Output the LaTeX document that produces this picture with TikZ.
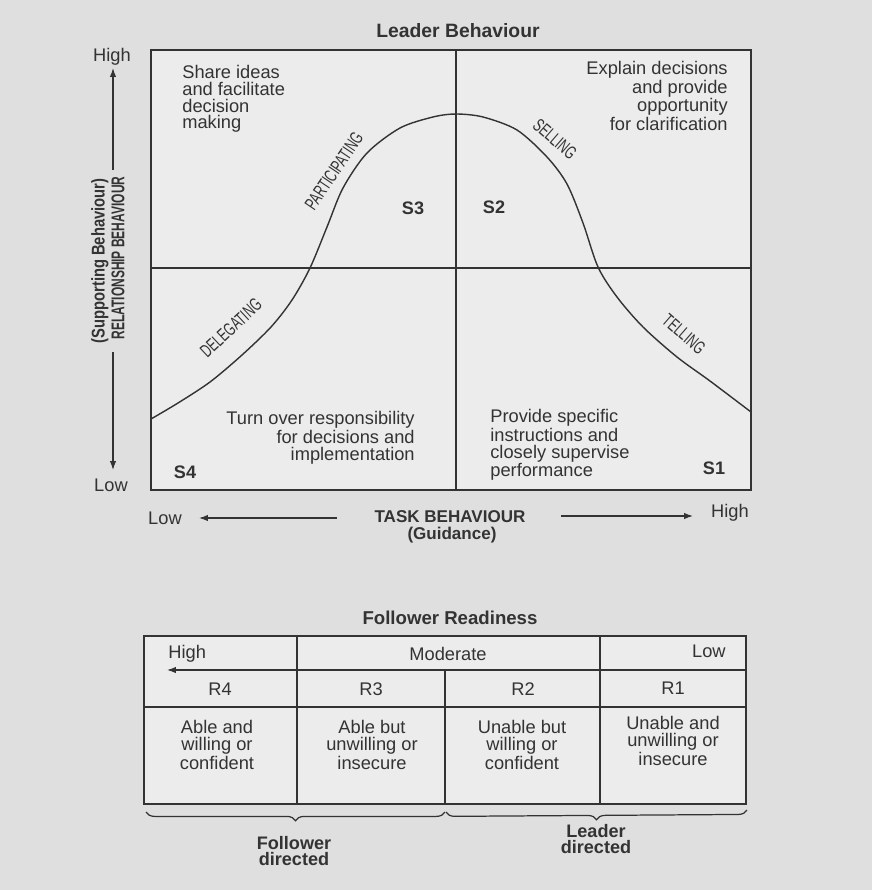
\documentclass[tikz,border=0pt]{standalone}
\usepackage{fontspec}
\setmainfont{Liberation Sans}
\newfontfamily\condf[FakeStretch=0.65]{Liberation Sans}
\newfontfamily\condg[FakeStretch=0.80]{Liberation Sans}
\usetikzlibrary{arrows.meta,decorations.pathreplacing}
\definecolor{ink}{HTML}{333333}
\definecolor{bgc}{HTML}{DFDFDF}
\definecolor{paper}{HTML}{ECECEC}
\begin{document}
\begin{tikzpicture}[x=0.02cm,y=-0.02cm,
  line/.style={draw=ink, line width=0.7pt},
  body/.style={text=ink, inner sep=0pt, font=\fontsize{10.4}{9.5}\selectfont},
  hd/.style={text=ink, inner sep=0pt, font=\bfseries\fontsize{10.3}{9.6}\selectfont},
  curvelab/.style={text=ink, inner sep=0pt, font=\condf\fontsize{10.5}{10}\selectfont},
  axlab/.style={text=ink, inner sep=0pt, font=\condf\bfseries\fontsize{10.5}{10}\selectfont, rotate=90},
  arr/.style={draw=ink, line width=0.7pt, -{Latex[length=5pt,width=3.6pt]}},
  brc/.style={draw=ink, line width=0.7pt, decorate, decoration={brace, mirror, amplitude=5pt}},
]
\fill[bgc] (0,0) rectangle (872,890);
\useasboundingbox (0,0) rectangle (872,890);

% ---------- upper chart ----------
\node[hd, font=\bfseries\fontsize{11}{10}\selectfont] (title) at (458,31) {Leader Behaviour};
\fill[paper] (151,50) rectangle (751,490);
\draw[line] (151,50) rectangle (751,490);
\draw[line] (456,50) -- (456,490);
\draw[line] (151,268) -- (751,268);

\draw[line, line width=0.8pt] plot[smooth, tension=0.5] coordinates {
  (151,419) (178,403) (210,382) (242,355) (271,327) (292,300) (310,268)
  (327,227) (343,188) (367,153) (400,128) (433,117) (456,114) (483,117)
  (517,130) (547,157) (567,184) (583,223) (598,267) (617,297) (643,327)
  (677,357) (710,381) (751,412)};

\node[body, anchor=west, align=left] (q3) at (182,99) {Share ideas\\and facilitate\\decision\\making};
\node[body, anchor=east, align=right] (q2) at (728,96) {Explain decisions\\and provide\\opportunity\\for clarification};
\node[body, anchor=east, align=right] (q4) at (415,438) {Turn over responsibility\\for decisions and\\implementation};
\node[body, anchor=west, align=left] (q1) at (490,445) {Provide specific\\instructions and\\closely supervise\\performance};

\node[hd] (s3) at (413,208) {S3};
\node[hd] (s2) at (494,207) {S2};
\node[hd] (s4) at (185,472) {S4};
\node[hd] (s1) at (714,468) {S1};

\node[curvelab, rotate=56] (part) at (334,171) {PARTICIPATING};
\node[curvelab, rotate=43] (dele) at (231,328) {DELEGATING};
\node[curvelab, rotate=-41] (sell) at (555,139) {SELLING};
\node[curvelab, rotate=-41] (tell) at (684,334) {TELLING};

% vertical axis
\node[body] (yhigh) at (112,57) {High};
\node[body] (ylow) at (111,485) {Low};
\node[axlab] (rel) at (118,258) {RELATIONSHIP BEHAVIOUR};
\node[axlab, font=\condg\bfseries\fontsize{10.5}{10}\selectfont] (sup) at (100,261) {(Supporting Behaviour)};
\coordinate (upS) at (113,170);
\coordinate (upE) at (113,68);
\coordinate (dnS) at (113,352);
\coordinate (dnE) at (113,470);
\draw[arr] (upS) -- (upE);
\draw[arr] (dnS) -- (dnE);

% horizontal axis
\node[body] (xlow) at (165,518) {Low};
\node[body] (xhigh) at (730,513) {High};
\node[hd, font=\bfseries\fontsize{9.7}{9}\selectfont] (task) at (450,517) {TASK BEHAVIOUR};
\node[hd, font=\bfseries\fontsize{9.7}{9}\selectfont] (guid) at (452,535) {(Guidance)};
\coordinate (lS) at (337,518);
\coordinate (lE) at (199,518);
\coordinate (rS) at (561,516);
\coordinate (rE) at (693,516);
\draw[arr] (lS) -- (lE);
\draw[arr] (rS) -- (rE);

% ---------- follower readiness table ----------
\node[hd, font=\bfseries\fontsize{10.6}{10}\selectfont] (fr) at (450,618) {Follower Readiness};
\fill[paper] (144,636) rectangle (746,804);
\draw[line] (144,636) rectangle (746,804);
\draw[line] (297,636) -- (297,804);
\draw[line] (600,636) -- (600,804);
\draw[line] (445,670) -- (445,804);
\draw[line] (297,670) -- (746,670);
\draw[line] (144,707) -- (746,707);
\coordinate (haS) at (297,670);
\coordinate (haE) at (167,670);
\draw[arr] (haS) -- (haE);

\node[body, anchor=west] (th) at (168,654) {High};
\node[body] (tm) at (448,654) {Moderate};
\node[body, anchor=east] (tl) at (726,651) {Low};
\node[body] (r4) at (220,689) {R4};
\node[body] (r3) at (371,689) {R3};
\node[body] (r2) at (523,689) {R2};
\node[body] (r1) at (673,688) {R1};
\node[body, align=center] (c4) at (217,745) {Able and\\willing or\\confident};
\node[body, align=center] (c3) at (372,745) {Able but\\unwilling or\\insecure};
\node[body, align=center] (c2) at (522,745) {Unable but\\willing or\\confident};
\node[body, align=center] (c1) at (673,741) {Unable and\\unwilling or\\insecure};

\coordinate (b1S) at (146,812);
\coordinate (b1E) at (445,812);
\coordinate (b2S) at (446,812);
\coordinate (b2E) at (747,810);
\draw[brc] (b1S) -- (b1E);
\draw[brc] (b2S) -- (b2E);
\node[hd, align=center] (fd) at (294,851) {Follower\\directed};
\node[hd, align=center] (ld) at (596,839) {Leader\\directed};
\end{tikzpicture}
\end{document}
